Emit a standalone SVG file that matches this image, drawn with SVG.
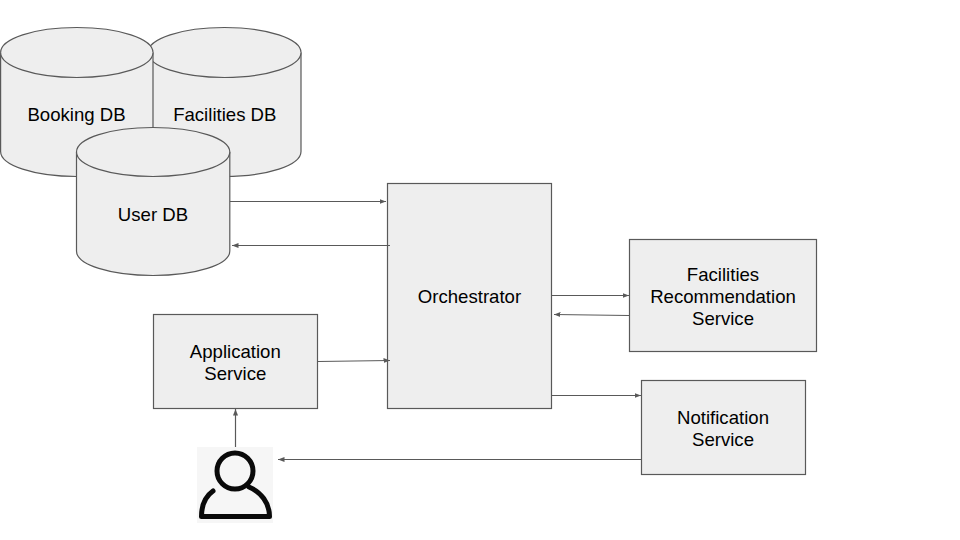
<svg xmlns="http://www.w3.org/2000/svg" width="960" height="540" viewBox="0 0 960 540">
<style>
.s{fill:#eeeeee;stroke:#595959;stroke-width:1.2}
.t{font-family:"Liberation Sans",Arial,sans-serif;font-size:18.6px;fill:#000;text-anchor:middle}
.c{fill:none;stroke:#595959;stroke-width:1.2;marker-end:url(#a)}
</style>
<defs>
<marker id="a" markerUnits="userSpaceOnUse" markerWidth="7" markerHeight="6" refX="6.500" refY="2.500" orient="auto"><path d="M0 0L6.500 2.500L0 5Z" fill="#595959"/></marker>
</defs>
<rect width="960" height="540" fill="#fff"/>
<g id="facilities-db">
<path class="s" d="M148 52.500V151.500C148 165.300 181.500 176.500 224.500 176.500S301 165.300 301 151.500V52.500C301 38.700 267.500 27.500 224.500 27.500S148 38.700 148 52.500Z"/>
<path class="s" d="M148 52.500C148 66.300 181.500 77.500 224.500 77.500S301 66.300 301 52.500"/>
<text class="t" x="224.800" y="121">Facilities DB</text>
</g>
<g id="booking-db">
<path class="s" d="M0.600 52.500V151.500C0.600 165.300 34 176.500 76.800 176.500S153 165.300 153 151.500V52.500C153 38.700 119.600 27.500 76.800 27.500S0.600 38.700 0.600 52.500Z"/>
<path class="s" d="M0.600 52.500C0.600 66.300 34 77.500 76.800 77.500S153 66.300 153 52.500"/>
<text class="t" x="76.500" y="121">Booking DB</text>
</g>
<g id="user-db">
<path class="s" d="M76.500 152V251C76.500 264.800 110.500 275.500 153 275.500S229.800 264.800 229.800 251V152C229.800 138.200 195.500 127.500 153 127.500S76.500 138.200 76.500 152Z"/>
<path class="s" d="M76.500 152C76.500 165.800 110.500 176.500 153 176.500S229.800 165.800 229.800 152"/>
<text class="t" x="153" y="221">User DB</text>
</g>
<g id="orchestrator">
<rect class="s" x="387.500" y="183.500" width="164" height="225"/>
<text class="t" x="469.500" y="302.500">Orchestrator</text>
</g>
<g id="facilities-recommendation-service">
<rect class="s" x="629.500" y="239.500" width="187" height="112"/>
<text class="t" x="723" y="280.500">Facilities</text>
<text class="t" x="723" y="302.500">Recommendation</text>
<text class="t" x="723" y="324.500">Service</text>
</g>
<g id="notification-service">
<rect class="s" x="641.500" y="380.500" width="164" height="94"/>
<text class="t" x="723" y="423.500">Notification</text>
<text class="t" x="723" y="445.500">Service</text>
</g>
<g id="application-service">
<rect class="s" x="153.500" y="314.500" width="164" height="94"/>
<text class="t" x="235.300" y="357.500">Application</text>
<text class="t" x="235.300" y="379.500">Service</text>
</g>
<g id="user">
<rect x="197" y="447" width="76" height="76" fill="#f6f6f6"/>
<circle cx="235" cy="471" r="18" fill="none" stroke="#0a0a0a" stroke-width="5"/>
<path d="M213 491C206 496 201.500 505 201.500 516.500H269.500C269.500 503 261 492 249 487" fill="none" stroke="#0a0a0a" stroke-width="5" stroke-linecap="round" stroke-linejoin="round"/>
</g>
<g id="connectors">
<path class="c" d="M230 201.500H386"/>
<path class="c" d="M390 245.500H232"/>
<path class="c" d="M318 361.500L390 360.500"/>
<path class="c" d="M552 295.500H629"/>
<path class="c" d="M629 315.500L554 314.500"/>
<path class="c" d="M552 395.500H641"/>
<path class="c" d="M641 459.500H278"/>
<path class="c" d="M235.500 447V409"/>
</g>
</svg>
